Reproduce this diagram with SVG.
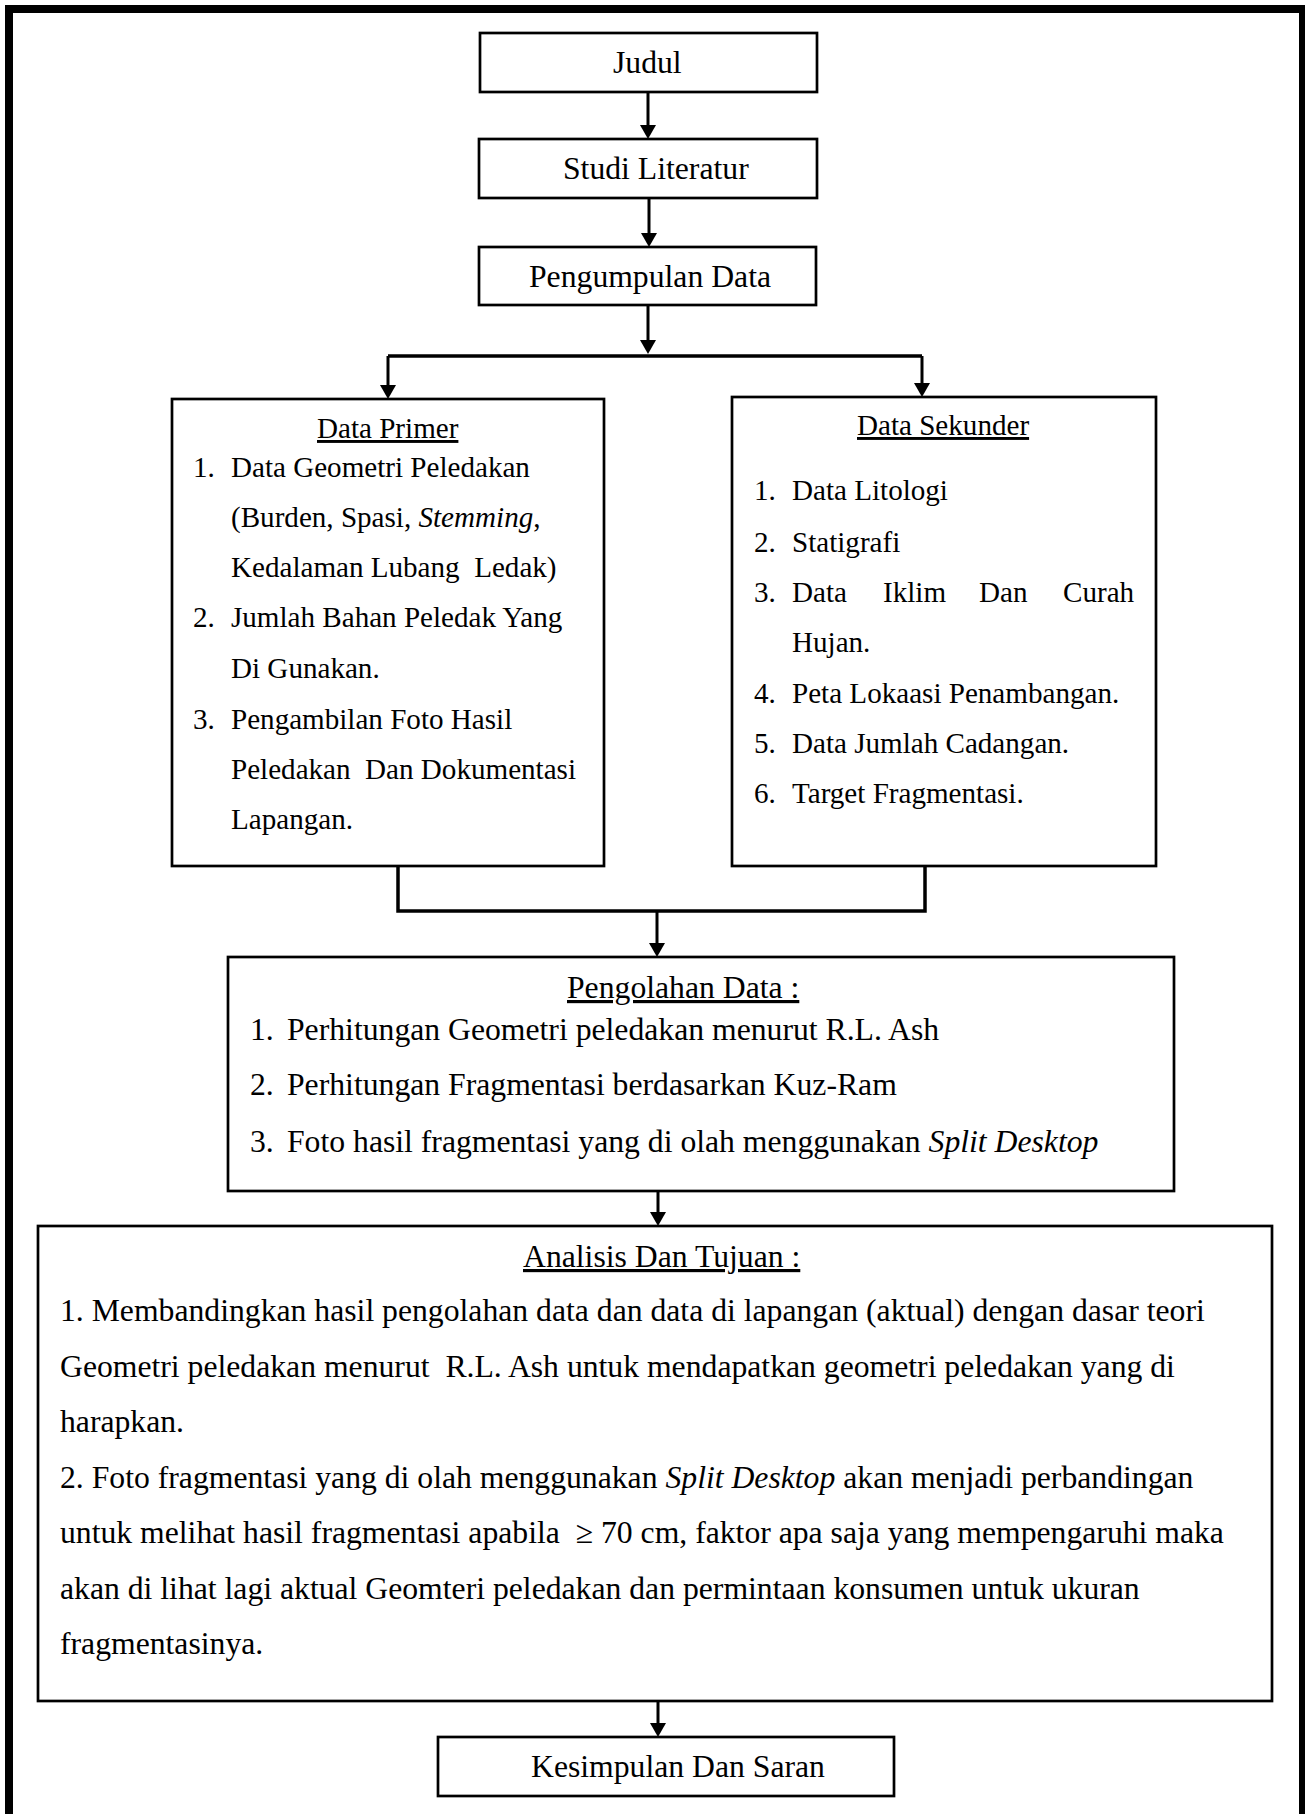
<svg xmlns="http://www.w3.org/2000/svg" width="1305" height="1814" viewBox="0 0 1305 1814">
<style>
text{font-family:"Liberation Serif","Times New Roman",serif;fill:#000;white-space:pre}
.f12{font-size:31.7px}
.f11{font-size:29.1px}
.u{text-decoration:underline}
.i{font-style:italic}
.box{fill:#fff;stroke:#000;stroke-width:2.7}
.ln{fill:none;stroke:#000;stroke-width:3}
.bus{fill:none;stroke:#000;stroke-width:3.5}
</style>
<defs>
<marker id="ah" viewBox="0 0 14 16" refX="7" refY="8" markerWidth="14" markerHeight="16" markerUnits="userSpaceOnUse" orient="auto">
<path d="M0,0 L14,8 L0,16 z" fill="#000"/>
</marker>
</defs>
<rect id="frame" x="9" y="9" width="1294" height="1900" fill="none" stroke="#000" stroke-width="8"/>

<g id="connectors">
<line class="ln" x1="648" y1="92" x2="648" y2="132" marker-end="url(#ah)"/>
<line class="ln" x1="649" y1="198" x2="649" y2="240" marker-end="url(#ah)"/>
<line class="ln" x1="648" y1="305" x2="648" y2="347" marker-end="url(#ah)"/>
<path class="bus" d="M388,356 H922"/>
<line class="ln" x1="388" y1="356" x2="388" y2="392" marker-end="url(#ah)"/>
<line class="ln" x1="922" y1="356" x2="922" y2="390" marker-end="url(#ah)"/>
<path class="bus" d="M398,866 V911 H925 V866"/>
<line class="ln" x1="657" y1="911" x2="657" y2="950" marker-end="url(#ah)"/>
<line class="ln" x1="658" y1="1191" x2="658" y2="1219" marker-end="url(#ah)"/>
<line class="ln" x1="658" y1="1701" x2="658" y2="1730" marker-end="url(#ah)"/>
</g>

<g id="judul">
<rect class="box" x="480" y="33" width="337" height="59"/>
<text class="f12" x="613" y="73">Judul</text>
</g>

<g id="studi-literatur">
<rect class="box" x="479" y="139" width="338" height="59"/>
<text class="f12" x="563" y="179">Studi Literatur</text>
</g>

<g id="pengumpulan-data">
<rect class="box" x="479" y="247" width="337" height="58"/>
<text class="f12" x="529" y="287">Pengumpulan Data</text>
</g>

<g id="data-primer">
<rect class="box" x="172" y="399" width="432" height="467"/>
<text class="f11 u" x="317" y="438">Data Primer</text>
<text class="f11" x="193" y="477">1.</text>
<text class="f11" x="231" y="477">Data Geometri Peledakan</text>
<text class="f11" x="231" y="527">(Burden, Spasi, <tspan class="i">Stemming</tspan>,</text>
<text class="f11" x="231" y="577">Kedalaman Lubang  Ledak)</text>
<text class="f11" x="193" y="627">2.</text>
<text class="f11" x="231" y="627">Jumlah Bahan Peledak Yang</text>
<text class="f11" x="231" y="678">Di Gunakan.</text>
<text class="f11" x="193" y="729">3.</text>
<text class="f11" x="231" y="729">Pengambilan Foto Hasil</text>
<text class="f11" x="231" y="779">Peledakan  Dan Dokumentasi</text>
<text class="f11" x="231" y="829">Lapangan.</text>
</g>

<g id="data-sekunder">
<rect class="box" x="732" y="397" width="424" height="469"/>
<text class="f11 u" x="857" y="435">Data Sekunder</text>
<text class="f11" x="754" y="500">1.</text>
<text class="f11" x="792" y="500">Data Litologi</text>
<text class="f11" x="754" y="552">2.</text>
<text class="f11" x="792" y="552">Statigrafi</text>
<text class="f11" x="754" y="602">3.</text>
<text class="f11" y="602"><tspan x="792">Data</tspan><tspan x="883">Iklim</tspan><tspan x="979">Dan</tspan><tspan x="1063">Curah</tspan></text>
<text class="f11" x="792" y="652">Hujan.</text>
<text class="f11" x="754" y="703">4.</text>
<text class="f11" x="792" y="703">Peta Lokaasi Penambangan.</text>
<text class="f11" x="754" y="753">5.</text>
<text class="f11" x="792" y="753">Data Jumlah Cadangan.</text>
<text class="f11" x="754" y="803">6.</text>
<text class="f11" x="792" y="803">Target Fragmentasi.</text>
</g>

<g id="pengolahan-data">
<rect class="box" x="228" y="957" width="946" height="234"/>
<text class="f12 u" x="567" y="998">Pengolahan Data :</text>
<text class="f12" x="250" y="1040">1.</text>
<text class="f12" x="287" y="1040">Perhitungan Geometri peledakan menurut R.L. Ash</text>
<text class="f12" x="250" y="1095">2.</text>
<text class="f12" x="287" y="1095">Perhitungan Fragmentasi berdasarkan Kuz-Ram</text>
<text class="f12" x="250" y="1152">3.</text>
<text class="f12" x="287" y="1152">Foto hasil fragmentasi yang di olah menggunakan <tspan class="i">Split Desktop</tspan></text>
</g>

<g id="analisis-dan-tujuan">
<rect class="box" x="38" y="1226" width="1234" height="475"/>
<text class="f12 u" x="523" y="1267">Analisis Dan Tujuan :</text>
<text class="f12" x="60" y="1321">1. Membandingkan hasil pengolahan data dan data di lapangan (aktual) dengan dasar teori</text>
<text class="f12" x="60" y="1377">Geometri peledakan menurut  R.L. Ash untuk mendapatkan geometri peledakan yang di</text>
<text class="f12" x="60" y="1432">harapkan.</text>
<text class="f12" x="60" y="1488">2. Foto fragmentasi yang di olah menggunakan <tspan class="i">Split Desktop</tspan> akan menjadi perbandingan</text>
<text class="f12" x="60" y="1543">untuk melihat hasil fragmentasi apabila  ≥ 70 cm, faktor apa saja yang mempengaruhi maka</text>
<text class="f12" x="60" y="1599">akan di lihat lagi aktual Geomteri peledakan dan permintaan konsumen untuk ukuran</text>
<text class="f12" x="60" y="1654">fragmentasinya.</text>
</g>

<g id="kesimpulan-dan-saran">
<rect class="box" x="438" y="1737" width="456" height="59"/>
<text class="f12" x="531" y="1777">Kesimpulan Dan Saran</text>
</g>
</svg>
